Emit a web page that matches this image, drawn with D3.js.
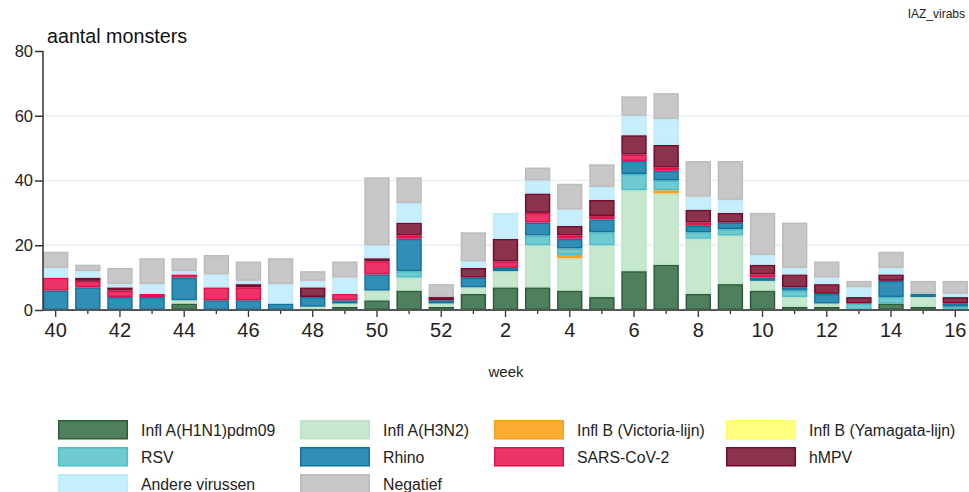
<!DOCTYPE html>
<html>
<head>
<meta charset="utf-8">
<script src="https://cdn.jsdelivr.net/npm/d3@7"></script>
<style>
  html, body { margin: 0; padding: 0; background: #fff; }
  svg { display: block; font-family: "Liberation Sans", Arial, Helvetica, sans-serif; }
</style>
</head>
<body>
<svg id="chart" width="969" height="492"></svg>
<script>
// Weeks of the respiratory season (week 40 through week 16)
const weeks = [40, 41, 42, 43, 44, 45, 46, 47, 48, 49, 50, 51, 52,
               1, 2, 3, 4, 5, 6, 7, 8, 9, 10, 11, 12, 13, 14, 15, 16];

// Number of samples per week, per result
const h1n1     = [0, 0, 0, 0, 2, 0, 0, 0, 0, 1, 3, 6, 1, 5, 7, 7, 6, 4, 12, 14, 5, 8, 6, 1, 1, 0, 2, 1, 0];
const h3n2     = [0, 0, 0, 0, 1, 0, 0, 0, 1, 1, 3, 4, 1, 2, 5, 13, 10, 16, 25, 22, 17, 15, 3, 3, 1, 0, 0, 3, 0];
const victoria = [0, 0, 0, 0, 0, 0, 0, 0, 0, 0, 0, 0, 0, 0, 0, 0, 1, 0, 0, 1, 0, 0, 0, 0, 0, 0, 0, 0, 0];
const yamagata = [0, 0, 0, 0, 0, 0, 0, 0, 0, 0, 0, 0, 0, 0, 0, 0, 0, 0, 0, 0, 0, 0, 0, 0, 0, 0, 0, 0, 0];
const rsv      = [0, 0, 0, 0, 0, 0, 0, 0, 0, 0, 0, 2, 0, 0, 0, 3, 2, 4, 5, 3, 2, 2, 0, 2, 0, 2, 2, 0, 1];
const rhino    = [6, 7, 4, 4, 7, 3, 3, 2, 3, 1, 5, 10, 1, 3, 1, 4, 3, 4, 4, 3, 2, 2, 1, 1, 3, 0, 5, 1, 1];
const sars     = [4, 2, 2, 1, 1, 4, 4, 0, 0, 2, 4, 1, 0, 0, 2, 3, 1, 1, 2, 1, 1, 0, 1, 0, 0, 0, 0, 0, 0];
const hmpv     = [0, 1, 1, 0, 0, 0, 1, 0, 3, 0, 1, 4, 1, 3, 7, 6, 3, 5, 6, 7, 4, 3, 3, 4, 3, 2, 2, 0, 2];
const andere   = [3, 2, 1, 3, 1, 4, 1, 6, 2, 5, 4, 6, 0, 2, 8, 4, 5, 4, 6, 8, 4, 4, 3, 2, 2, 3, 2, 0, 1];
const negatief = [5, 2, 5, 8, 4, 6, 6, 8, 3, 5, 21, 8, 4, 9, 0, 4, 8, 7, 6, 8, 11, 12, 13, 14, 5, 2, 5, 4, 4];

const seriesNames = ["Infl A(H1N1)pdm09", "Infl A(H3N2)", "Infl B (Victoria-lijn)", "Infl B (Yamagata-lijn)",
                     "RSV", "Rhino", "SARS-CoV-2", "hMPV", "Andere virussen", "Negatief"];
const seriesValues = [h1n1, h3n2, victoria, yamagata, rsv, rhino, sars, hmpv, andere, negatief];
const fills   = ["#4f7f5c", "#c5e8cf", "#fdac33", "#ffff80", "#6fcad1", "#318fb5", "#ec3468", "#8b324c", "#c7eefc", "#c7c7c7"];
const strokes = ["#2b5e38", "#bde2c6", "#f9a11b", "#ffff66", "#4dbcc6", "#13739f", "#e1104b", "#760a2c", "#c0eafa", "#bcbcbc"];

const yTicks = [0, 20, 40, 60, 80];
const gridValues = [20, 40, 60];

// Table for the stack layout
const rows = weeks.map((w, i) => {
  const r = { week: String(w) };
  seriesNames.forEach((s, k) => { r[s] = seriesValues[k][i]; });
  return r;
});

const svg = d3.select("#chart");

const plotLeft = 43, plotRight = 968, plotTop = 51, plotBottom = 310;

const x = d3.scaleBand()
  .domain(weeks.map(String))
  .range([plotLeft, plotRight])
  .paddingInner(0.21)
  .paddingOuter(0);

const y = d3.scaleLinear().domain([0, 80]).range([plotBottom, plotTop]);

// Horizontal gridlines
svg.append("g")
  .selectAll("line")
  .data(gridValues)
  .join("line")
  .attr("x1", plotLeft).attr("x2", 969)
  .attr("y1", d => y(d)).attr("y2", d => y(d))
  .attr("stroke", "#e8eef2")
  .attr("stroke-width", 1.5);

// Stacked bars
const stack = d3.stack().keys(seriesNames);
const layers = stack(rows);

svg.append("g")
  .selectAll("g")
  .data(layers)
  .join("g")
  .attr("fill", (d, i) => fills[i])
  .attr("stroke", (d, i) => strokes[i])
  .attr("stroke-width", 1.5)
  .selectAll("rect")
  .data(d => d.filter(p => p[1] - p[0] > 0))
  .join("rect")
  .attr("x", p => x(p.data.week) + 0.75)
  .attr("width", x.bandwidth() - 1.5)
  .attr("y", p => y(p[1]) + 0.75)
  .attr("height", p => Math.max(0, y(p[0]) - y(p[1]) - 1.5));

// Y axis
const yAxis = svg.append("g")
  .attr("transform", `translate(${plotLeft},0)`)
  .call(d3.axisLeft(y).tickValues(yTicks).tickSize(8).tickPadding(2));
yAxis.select(".domain").remove();
yAxis.selectAll(".tick line").attr("stroke", "#333").attr("stroke-width", 1.5);
yAxis.selectAll(".tick text")
  .attr("font-size", 16.5)
  .attr("fill", "#222")
  .attr("font-family", "'Liberation Sans', Arial, sans-serif");

svg.append("line")
  .attr("x1", plotLeft).attr("x2", plotLeft)
  .attr("y1", plotTop).attr("y2", plotBottom)
  .attr("stroke", "#333").attr("stroke-width", 1.5);

// X axis: a tick for each week, a label for every other week
const xAxis = svg.append("g")
  .attr("transform", `translate(0,${plotBottom})`)
  .call(d3.axisBottom(x)
    .tickSize(7)
    .tickPadding(6)
    .tickFormat((d, i) => (i % 2 === 0 ? d : "")));
xAxis.select(".domain").remove();
xAxis.selectAll(".tick line")
  .attr("stroke", "#333")
  .attr("stroke-width", 1.3)
  .attr("y2", (d, i) => (i % 2 === 0 ? 7 : 4));
xAxis.selectAll(".tick text")
  .attr("font-size", 20)
  .attr("fill", "#222")
  .attr("font-family", "'Liberation Sans', Arial, sans-serif");

svg.append("line")
  .attr("x1", plotLeft).attr("x2", 969)
  .attr("y1", plotBottom).attr("y2", plotBottom)
  .attr("stroke", "#555").attr("stroke-width", 2);

// Titles
svg.append("text")
  .attr("x", 47).attr("y", 43)
  .attr("font-size", 19.7)
  .attr("fill", "#111")
  .text("aantal monsters");

svg.append("text")
  .attr("x", 965).attr("y", 18)
  .attr("text-anchor", "end")
  .attr("font-size", 12)
  .attr("fill", "#222")
  .text("IAZ_virabs");

svg.append("text")
  .attr("x", 506).attr("y", 377)
  .attr("text-anchor", "middle")
  .attr("font-size", 15)
  .attr("fill", "#222")
  .text("week");

// Legend: four columns, filled row by row
const legendCols = [58, 300, 494, 726];
const legendRows = [420, 447, 474];
const legend = svg.append("g")
  .selectAll("g")
  .data(seriesNames)
  .join("g")
  .attr("transform", (d, i) => `translate(${legendCols[i % 4]},${legendRows[Math.floor(i / 4)]})`);

legend.append("rect")
  .attr("x", 0.75).attr("y", 0.75)
  .attr("width", 68.5).attr("height", 18)
  .attr("fill", (d, i) => fills[i])
  .attr("stroke", (d, i) => strokes[i])
  .attr("stroke-width", 1.5);

legend.append("text")
  .attr("x", 83).attr("y", 15.5)
  .attr("font-size", 15.8)
  .attr("fill", "#222")
  .text(d => d);
</script>
</body>
</html>
